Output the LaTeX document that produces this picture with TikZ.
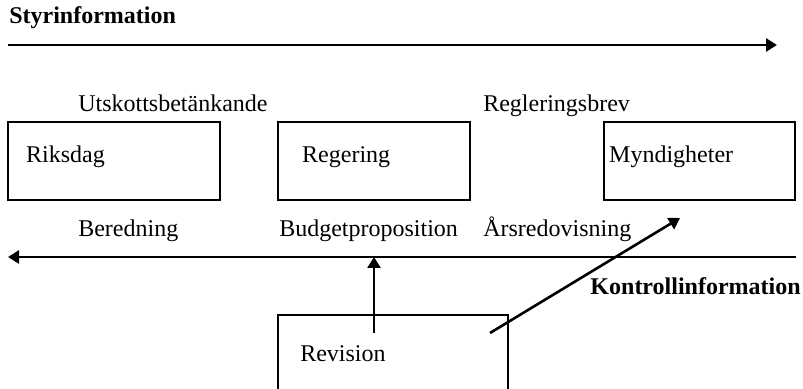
\documentclass[tikz,border=0pt]{standalone}
\usepackage{fontspec}
\setmainfont{Liberation Serif}
\usepackage{tikz}
\usetikzlibrary{arrows.meta,calc}

\begin{document}
\begin{tikzpicture}[x=0.5pt,y=-0.5pt,->,>={Triangle[length=5.5pt,width=6.5pt]},line width=1.3pt,
	box/.style={draw,rectangle,line width=1.1pt,minimum height=39pt,inner sep=0pt},
	txt/.style={anchor=base west,inner sep=0pt,font=\fontsize{12pt}{14pt}\selectfont},
	head/.style={inner sep=0pt,font=\fontsize{12pt}{14pt}\selectfont\bfseries}]
		\clip (0,0) rectangle (803,389);

		% boxes
		\node[box,minimum width=106pt] (riksdag) at (114,161) {};
		\node[box,minimum width=96pt] (regering) at (374,161) {};
		\node[box,minimum width=95.5pt] (myndigheter) at (699.5,161) {};
		\node[box,minimum width=115pt,minimum height=60pt] (revision) at (393,375) {};

		\node[txt] (riksdagtxt) at ($(riksdag.west)+(18,2)$) {Riksdag};
		\node[txt] (regeringtxt) at ($(regering.west)+(24,2)$) {Regering};
		\node[txt] (myndighetertxt) at ($(myndigheter.west)+(5,2)$) {Myndigheter};
		\node[txt] (revisiontxt) at (299,362) {Revision};

		% labels
		\node[head,anchor=base west] (styr) at (8,24) {Styrinformation};
		\node[head,anchor=base east] (kontroll) at (802,295) {Kontrollinformation};
		\node[txt] (utskott) at (77,112) {Utskottsbetänkande};
		\node[txt] (regbrev) at (482,112) {Regleringsbrev};
		\node[txt] (beredning) at (77,237) {Beredning};
		\node[txt] (budget) at (278,237) {Budgetproposition};
		\node[txt] (arsred) at (482,237) {Årsredovisning};

		% arrows
		\coordinate (styr1) at (8,45);
		\coordinate (styr2) at (777,45);
		\coordinate (kontr1) at (796,257);
		\coordinate (kontr2) at (8,257);
		\coordinate (rev1) at (374,333);
		\coordinate (rev2) at (374,257);
		\coordinate (rev3) at (490,333);
		\coordinate (rev4) at (680,218);

		\path (styr1) edge (styr2);
		\path (kontr1) edge (kontr2);
		\path (rev1) edge (rev2);
		\path (rev3) edge (rev4);
\end{tikzpicture}
\end{document}
